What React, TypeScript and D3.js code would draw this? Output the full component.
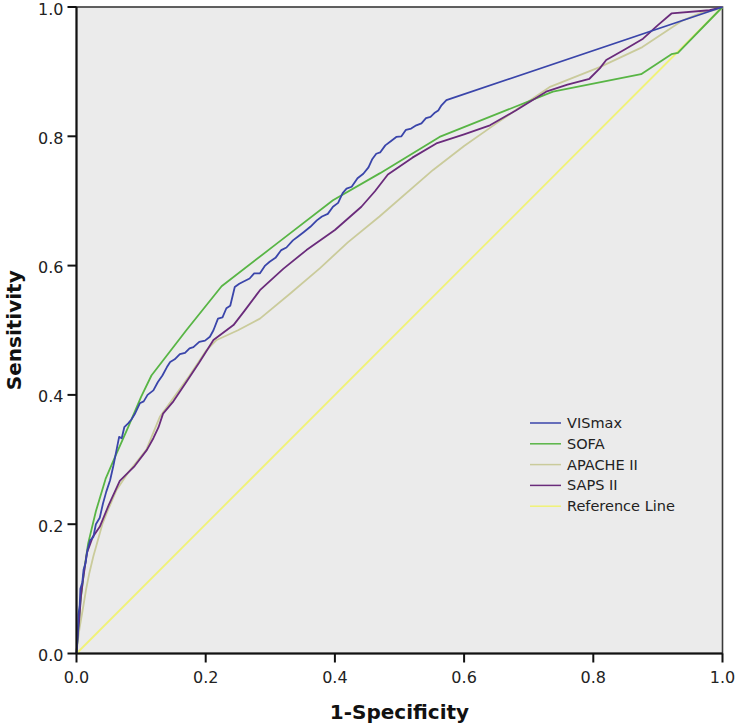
import * as d3 from "d3";

const W = 738;
const H = 728;
const PLOT = { left: 76.5, right: 722.5, top: 7, bottom: 653.5 };

const TICKS = [0, 0.2, 0.4, 0.6, 0.8, 1.0];

// ROC points: [1 - specificity, sensitivity]
const visMax: [number, number][] = [
  [0, 0], [0.002, 0.03], [0.003, 0.06], [0.005, 0.075], [0.006, 0.1], [0.009, 0.11],
  [0.011, 0.13], [0.014, 0.14], [0.017, 0.16], [0.021, 0.175], [0.026, 0.18], [0.03, 0.2],
  [0.036, 0.21], [0.041, 0.232], [0.046, 0.25], [0.052, 0.268], [0.057, 0.29], [0.062, 0.315],
  [0.066, 0.335], [0.07, 0.333], [0.074, 0.35], [0.08, 0.356], [0.085, 0.362], [0.09, 0.37],
  [0.098, 0.387], [0.104, 0.39], [0.11, 0.4], [0.119, 0.407], [0.126, 0.42], [0.133, 0.43],
  [0.14, 0.443], [0.145, 0.451], [0.152, 0.455], [0.16, 0.463], [0.168, 0.465], [0.175, 0.472],
  [0.181, 0.474], [0.19, 0.482], [0.199, 0.484], [0.2065, 0.49], [0.212, 0.5], [0.219, 0.518],
  [0.226, 0.52], [0.232, 0.534], [0.238, 0.538], [0.245, 0.567], [0.252, 0.572], [0.258, 0.575],
  [0.268, 0.58], [0.275, 0.588], [0.284, 0.588], [0.292, 0.6], [0.299, 0.606], [0.308, 0.612],
  [0.317, 0.624], [0.325, 0.628], [0.335, 0.639], [0.343, 0.645], [0.352, 0.652], [0.362, 0.66],
  [0.372, 0.67], [0.38, 0.676], [0.389, 0.68], [0.397, 0.691], [0.405, 0.697], [0.412, 0.712],
  [0.418, 0.719], [0.426, 0.722], [0.435, 0.735], [0.444, 0.742], [0.452, 0.752], [0.458, 0.765],
  [0.464, 0.773], [0.47, 0.775], [0.478, 0.786], [0.486, 0.792], [0.495, 0.799], [0.503, 0.8],
  [0.51, 0.81], [0.518, 0.812], [0.526, 0.817], [0.534, 0.82], [0.541, 0.828], [0.548, 0.83],
  [0.554, 0.836], [0.56, 0.84], [0.565, 0.848], [0.5726, 0.856], [1, 1],
];

const sofa: [number, number][] = [
  [0, 0], [0.003, 0.04], [0.006, 0.08], [0.012, 0.13], [0.018, 0.17], [0.03, 0.22],
  [0.045, 0.27], [0.06, 0.305], [0.08, 0.35], [0.1, 0.397], [0.116, 0.43], [0.17, 0.5],
  [0.2246, 0.568], [0.31, 0.634], [0.397, 0.701], [0.47, 0.743], [0.562, 0.799],
  [0.7375, 0.869], [0.874, 0.896], [0.921, 0.927], [0.931, 0.929], [1, 1],
];

const apache: [number, number][] = [
  [0, 0], [0.002, 0.02], [0.005, 0.041], [0.01, 0.07], [0.015, 0.1], [0.02, 0.125],
  [0.026, 0.15], [0.04, 0.2], [0.05, 0.225], [0.062, 0.253], [0.08, 0.28], [0.108, 0.315],
  [0.129, 0.366], [0.15, 0.395], [0.175, 0.43], [0.201, 0.469], [0.217, 0.485], [0.25, 0.5],
  [0.284, 0.518], [0.33, 0.556], [0.377, 0.596], [0.42, 0.636], [0.469, 0.676], [0.552, 0.748],
  [0.6, 0.785], [0.65, 0.82], [0.732, 0.876], [0.81, 0.907], [0.876, 0.938], [0.938, 0.979],
  [0.964, 0.99], [0.99, 0.996], [1, 1],
];

const saps: [number, number][] = [
  [0, 0], [0.002, 0.03], [0.004, 0.05], [0.007, 0.09], [0.01, 0.114], [0.016, 0.155],
  [0.025, 0.18], [0.036, 0.196], [0.05, 0.23], [0.067, 0.267], [0.09, 0.29], [0.109, 0.315],
  [0.119, 0.333], [0.127, 0.35], [0.134, 0.371], [0.15, 0.39], [0.17, 0.42], [0.19, 0.45],
  [0.212, 0.485], [0.243, 0.508], [0.26, 0.53], [0.284, 0.562], [0.32, 0.595], [0.356, 0.624],
  [0.4, 0.655], [0.441, 0.691], [0.462, 0.715], [0.482, 0.741], [0.52, 0.767], [0.557, 0.789],
  [0.6, 0.803], [0.64, 0.817], [0.68, 0.84], [0.727, 0.869], [0.76, 0.88], [0.794, 0.889],
  [0.81, 0.905], [0.82, 0.918], [0.85, 0.935], [0.877, 0.951], [0.9, 0.972], [0.921, 0.99],
  [0.98, 0.995], [1, 1],
];

const refLine: [number, number][] = [[0, 0], [1, 1]];

const SERIES_NAMES = ["VISmax", "SOFA", "APACHE II", "SAPS II", "Reference Line"];
const SERIES_DATA = [visMax, sofa, apache, saps, refLine];
const COLORS = ["#3a45aa", "#58b545", "#cacb9b", "#6a2b7b", "#f0f277"];

const FONT = "'DejaVu Sans', sans-serif";

export default function App() {
  const x = d3.scaleLinear().domain([0, 1]).range([PLOT.left, PLOT.right]);
  const y = d3.scaleLinear().domain([0, 1]).range([PLOT.bottom, PLOT.top]);
  const line = d3
    .line<[number, number]>()
    .x((d) => x(d[0]))
    .y((d) => y(d[1]));

  // draw order: reference line first, then the curves, VISmax on top
  const order = [4, 2, 1, 3, 0];

  return (
    <svg
      width={W}
      height={H}
      style={{ position: "absolute", left: 0, top: 0, background: "#fff" }}
    >
      <rect
        x={PLOT.left}
        y={PLOT.top}
        width={PLOT.right - PLOT.left}
        height={PLOT.bottom - PLOT.top}
        fill="#ebebeb"
        stroke="#3a3a3a"
        strokeWidth={1.6}
      />
      {order.map((i) => (
        <path
          key={SERIES_NAMES[i]}
          d={line(SERIES_DATA[i]) ?? ""}
          fill="none"
          stroke={COLORS[i]}
          strokeWidth={1.8}
          strokeLinejoin="round"
        />
      ))}

      {/* axes */}
      <line x1={PLOT.left} x2={PLOT.left} y1={PLOT.top} y2={PLOT.bottom} stroke="#111" strokeWidth={2} />
      <line x1={PLOT.left} x2={PLOT.right} y1={PLOT.bottom} y2={PLOT.bottom} stroke="#111" strokeWidth={2} />
      {TICKS.map((t) => (
        <g key={"y" + t}>
          <line x1={PLOT.left - 9} x2={PLOT.left} y1={y(t)} y2={y(t)} stroke="#111" strokeWidth={2} />
          <text
            x={PLOT.left - 13}
            y={y(t) + 7.5}
            textAnchor="end"
            fontFamily={FONT}
            fontSize={16}
            fill="#222"
          >
            {t.toFixed(1)}
          </text>
        </g>
      ))}
      {TICKS.map((t) => (
        <g key={"x" + t}>
          <line x1={x(t)} x2={x(t)} y1={PLOT.bottom} y2={PLOT.bottom + 9} stroke="#111" strokeWidth={2} />
          <text
            x={x(t)}
            y={PLOT.bottom + 29}
            textAnchor="middle"
            fontFamily={FONT}
            fontSize={16}
            fill="#222"
          >
            {t.toFixed(1)}
          </text>
        </g>
      ))}

      <text
        x={(PLOT.left + PLOT.right) / 2}
        y={719}
        textAnchor="middle"
        fontFamily={FONT}
        fontWeight="bold"
        fontSize={20}
        fill="#111"
      >
        1-Specificity
      </text>
      <text
        transform={`translate(21,${(PLOT.top + PLOT.bottom) / 2}) rotate(-90)`}
        textAnchor="middle"
        fontFamily={FONT}
        fontWeight="bold"
        fontSize={20}
        fill="#111"
      >
        Sensitivity
      </text>

      {/* legend */}
      {SERIES_NAMES.map((name, i) => {
        const cy = 423 + i * 20.8;
        return (
          <g key={"lg" + name}>
            <line x1={530} x2={561} y1={cy} y2={cy} stroke={COLORS[i]} strokeWidth={1.5} />
            <text x={567} y={cy + 5} fontFamily={FONT} fontSize={14.5} fill="#222">
              {name}
            </text>
          </g>
        );
      })}
    </svg>
  );
}
